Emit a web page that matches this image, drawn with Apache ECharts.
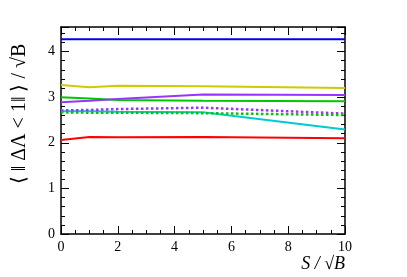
<!DOCTYPE html>
<html><head><meta charset="utf-8">
<script src="https://cdn.jsdelivr.net/npm/echarts@6/dist/echarts.min.js"></script>
<style>html,body{margin:0;padding:0;background:#fff}#c{width:407px;height:277px}</style>
</head><body><div id="c"></div>
<script>
const xVals = [0, 1, 2, 5, 10];
const blue = [4.27, 4.27, 4.27, 4.27, 4.27];
const yellow = [3.27, 3.22, 3.25, 3.24, 3.20];
const greenSolid = [3.00, 2.97, 2.94, 2.92, 2.91];
const purpleSolid = [2.89, 2.92, 2.96, 3.06, 3.05];
const purpleDotted = [2.71, 2.72, 2.74, 2.77, 2.64];
const greenDotted = [2.67, 2.66, 2.66, 2.65, 2.61];
const cyan = [2.69, 2.69, 2.68, 2.67, 2.29];
const red = [2.06, 2.13, 2.12, 2.13, 2.10];
const xTicks = [0, 2, 4, 6, 8, 10];
const yTicks = [0, 1, 2, 3, 4];

function pts(arr){ return xVals.map((x,i)=>[x,arr[i]]); }
const font = 'Liberation Serif';
function line(name, data, color, dotted){
  return {name, type:'line', data:pts(data), symbol:'none', smooth:false,
    lineStyle:{color, width: dotted ? 2.5 : 2, type: dotted ? [2.5,2.5] : 'solid'}, z: dotted?3:2};
}
const axisCommon = {
  axisLine:{show:true, onZero:false, lineStyle:{color:'#000', width:1.5}},
  axisTick:{show:true, inside:true, length:8, lineStyle:{color:'#000', width:1}},
  splitLine:{show:false}
};
const chart = echarts.init(document.getElementById('c'), null, {renderer:'canvas'});
chart.setOption({
  animation:false,
  backgroundColor:'#fff',
  grid:{left:61, right:62, top:27, bottom:43},
  xAxis:[
    Object.assign({type:'value', min:0, max:10, interval:2, position:'bottom',
      minorTick:{show:true, splitNumber:4, length:4, lineStyle:{color:'#000'}},
      axisLabel:{color:'#000', fontFamily:font, fontSize:14, margin:6, formatter:v=>xTicks.includes(v)?String(v):''},
      name:'S / √B', nameLocation:'end', nameGap:0,
      nameTextStyle:{fontFamily:font, fontStyle:'italic', fontSize:18, color:'#000', align:'right', verticalAlign:'top', padding:[21,0,0,0]}
    }, axisCommon),
    Object.assign({type:'value', min:0, max:10, interval:2, position:'top',
      minorTick:{show:true, splitNumber:4, length:4, lineStyle:{color:'#000'}},
      axisLabel:{show:false}
    }, axisCommon)
  ],
  yAxis:[
    Object.assign({type:'value', min:0, max:4.54, interval:1, position:'left',
      minorTick:{show:true, splitNumber:5, length:4, lineStyle:{color:'#000'}},
      axisLabel:{color:'#000', fontFamily:font, fontSize:14, margin:6, showMaxLabel:false, formatter:v=>yTicks.includes(v)?String(v):''}
    }, axisCommon),
    Object.assign({type:'value', min:0, max:4.54, interval:1, position:'right',
      minorTick:{show:true, splitNumber:5, length:4, lineStyle:{color:'#000'}},
      axisLabel:{show:false}
    }, axisCommon)
  ],
  graphic:[{
    type:'text', x:20, y:114, rotation:Math.PI/2,
    style:{text:'⟨ ‖ ΔΛ < 1‖ ⟩ / √B', fontFamily:font, fontSize:20, fill:'#000', align:'center', verticalAlign:'middle'}
  }],
  series:[
    line('blue', blue, '#0000ee', false),
    line('yellow', yellow, '#cccc00', false),
    line('greenSolid', greenSolid, '#00c800', false),
    line('purpleSolid', purpleSolid, '#9933ff', false),
    line('cyan', cyan, '#00cccc', false),
    line('red', red, '#ff0000', false),
    line('purpleDotted', purpleDotted, '#9933ff', true),
    line('greenDotted', greenDotted, '#00c800', true)
  ]
});
</script></body></html>
